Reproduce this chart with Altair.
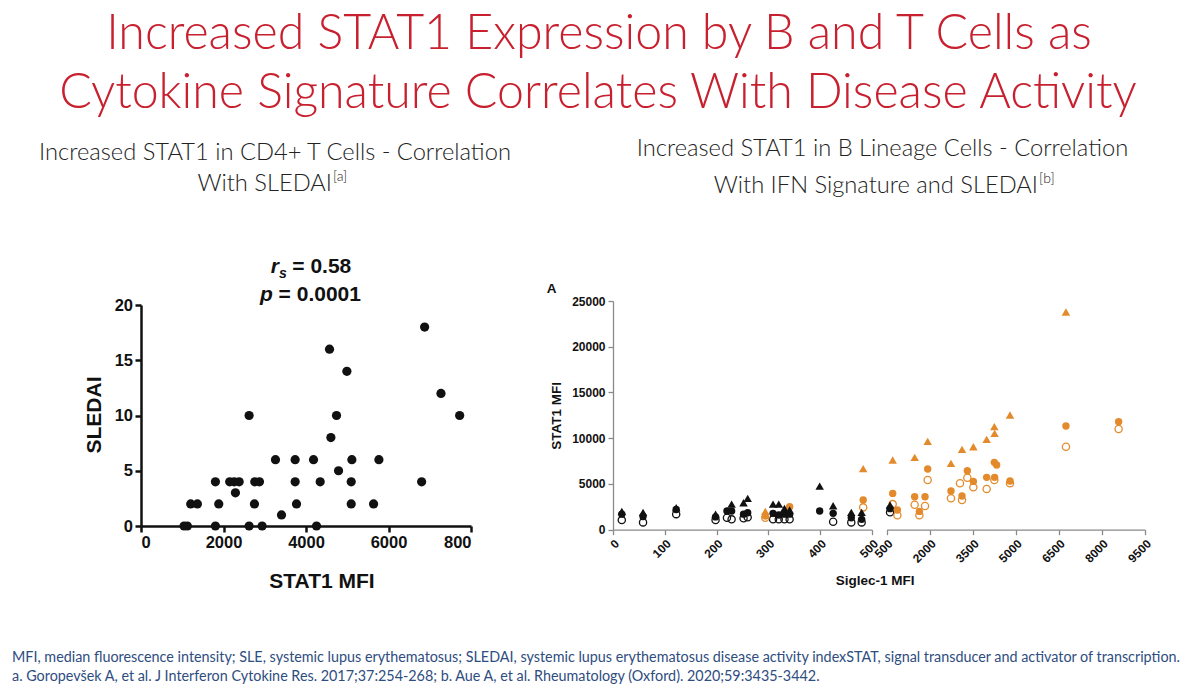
import altair as alt
import pandas as pd

# ---------------- data ----------------
# Left panel: STAT1 MFI (CD4+ T cells) vs SLEDAI
stat1_mfi = [6876, 4570, 4991, 7272, 2621, 4740, 7725, 4603, 3260, 3737, 4182, 5112, 5767, 4789,
             1804, 2150, 2260, 2380, 2758, 2872, 3737, 4344, 5096, 6803, 2289,
             1205, 1367, 1885, 2750, 3770, 5096, 5638, 3406, 1043, 1124, 1804, 2621, 2936, 4255]
sledai = [18, 16, 14, 12, 10, 10, 10, 8, 6, 6, 6, 6, 6, 5,
          4, 4, 4, 4, 4, 4, 4, 4, 4, 4, 3,
          2, 2, 2, 2, 2, 2, 2, 1, 0, 0, 0, 0, 0, 0]

# Right panel: Siglec-1 MFI vs STAT1 MFI in three B-lineage subsets per patient
siglec1 = [17, 58, 122, 198, 220, 229, 252, 260, 309, 320, 331, 341, 399, 425, 460, 480,
           294, 341, 483, 616,
           709, 872, 1475, 1638, 1835, 1928, 2740, 3054, 3124, 3310, 3519, 3983, 4250, 4260,
           4331, 4796, 6746, 8581]
ifn_group = ["low"] * 16 + ["high", "high", "high", "low"] + ["high"] * 18
stat1_triangle = [2000, 1900, 2400, 1700, None, 2800, 2950, 3425, 2800, 2800, 2330, 2150, 4770, 2620, 1900, 1900,
                  2000, None, 6670, 2700,
                  7620, None, 7910, None, None, 9660, 7250, None, 8780, None, 9070, 9880, 11260, 10530,
                  None, 12540, 23800, None]
stat1_filled = [1700, 1450, 2200, 1400, 2040, 2040, 1700, 1860, 1785, 1600, 1700, 1700, 2040, 1785, 1310, 1130,
                1500, 2500, 3240, 2300,
                3970, 2150, 3610, 2000, 3610, 6630, 4230, None, 3680, 6450, 5280, 5720, 7360, 5720,
                7070, 5320, 11330, 11810]
stat1_open = [1050, 800, 1700, 1050, 1300, 1130, 1240, 1350, 1130, 1130, 1130, 1130, None, 870, 800, 800,
              1300, None, 2440, 1900,
              2800, 1570, 2730, 1570, 2590, 5430, 3430, 5070, 3240, 5680, 4630, 4450, 5430, None,
              None, 5070, 9070, 11000]

left_x_ticks = [0, 2000, 4000, 6000, 8000]
left_y_ticks = [0, 5, 10, 15, 20]
right_y_ticks = [0, 5000, 10000, 15000, 20000, 25000]
seg1_ticks = [0, 100, 200, 300, 400, 500]
seg2_ticks = [500, 2000, 3500, 5000, 6500, 8000, 9500]

# ---------------- tables ----------------
df_left = pd.DataFrame({"stat1": stat1_mfi, "sledai": sledai})
rows = []
for s, g, t, f, o in zip(siglec1, ifn_group, stat1_triangle, stat1_filled, stat1_open):
    for kind, v in (("open", o), ("filled", f), ("tri", t)):
        if v is not None:
            rows.append({"siglec": s, "group": g, "kind": kind, "stat1": v})
df_r = pd.DataFrame(rows)
df_seg1 = df_r[df_r.siglec < 500]
df_seg2 = df_r[df_r.siglec >= 500]
dummy = pd.DataFrame({"a": [0]})

W, H = 1184, 678
RED = "#C8202F"
INK = "#111111"
ORANGE = "#E38B2C"
SUB = "#222222"
NOTE = "#2E4D80"

gp_axis = dict(domainColor=INK, domainWidth=2.5, tickColor=INK, tickWidth=2.5, tickSize=6,
               labelFont="Liberation Sans", labelFontWeight="bold", labelFontSize=16.5,
               labelColor=INK, labelPadding=2.5, grid=False, title=None, format="d")
r_axis = dict(domainColor="#8a8a8a", domainWidth=1.3, tickColor="#8a8a8a", tickWidth=1.3, tickSize=5,
              labelFont="Liberation Sans", labelFontWeight="bold", labelFontSize=12,
              labelColor=INK, labelPadding=3, grid=False, format="d")

# ---------------- left scatter ----------------
left = alt.Chart(df_left).mark_circle(size=85, color=INK, opacity=1).encode(
    x=alt.X("stat1:Q",
            scale=alt.Scale(domain=[0, 8000], range=[133, 463], nice=False, zero=False),
            axis=alt.Axis(values=left_x_ticks, orient="bottom", offset=-160,
                          labelExpr="datum.value == 8000 ? '800' : datum.label", **gp_axis)),
    y=alt.Y("sledai:Q",
            scale=alt.Scale(domain=[0, 20], range=[518, 297], nice=False),
            axis=alt.Axis(values=left_y_ticks, orient="left", offset=-133, **gp_axis)),
)

# ---------------- right scatter (broken x axis) ----------------
color_enc = alt.Color("group:N", scale=alt.Scale(domain=["low", "high"], range=[INK, ORANGE]), legend=None)


def right_panel(df, domain, rng, ticks, show_y):
    x = alt.X("siglec:Q", scale=alt.Scale(domain=domain, range=rng, nice=False, zero=False),
              axis=alt.Axis(values=ticks, orient="bottom", offset=-156.3, title=None,
                            labelAngle=315, **r_axis))
    yscale = alt.Scale(domain=[0, 25000], range=[521.7, 293], nice=False)
    if show_y:
        y = alt.Y("stat1:Q", scale=yscale,
                  axis=alt.Axis(values=right_y_ticks, orient="left", offset=-605, title="STAT1 MFI",
                                titleFont="Liberation Sans", titleFontWeight="bold", titleFontSize=13.5,
                                titleColor=INK, titlePadding=8, **r_axis))
    else:
        y = alt.Y("stat1:Q", scale=yscale, axis=None)
    base = alt.Chart(df)
    open_l = base.transform_filter("datum.kind == 'open'").mark_point(
        shape="circle", filled=False, size=52, strokeWidth=1.3, opacity=1).encode(x=x, y=y, color=color_enc)
    filled_l = base.transform_filter("datum.kind == 'filled'").mark_circle(
        size=55, opacity=1).encode(x=x, y=y, color=color_enc)
    tri_l = base.transform_filter("datum.kind == 'tri'").mark_point(
        shape="triangle-up", filled=True, size=72, opacity=1).encode(x=x, y=y, color=color_enc)
    return alt.layer(open_l, filled_l, tri_l)


p1 = right_panel(df_seg1, [0, 500], [605, 864], seg1_ticks, True)
p2 = right_panel(df_seg2, [500, 9500], [878.7, 1137], seg2_ticks, False)


# ---------------- texts ----------------
def txt(s, x, y, size, color=INK, font="Liberation Sans", weight="normal", style="normal",
        align="center", baseline="alphabetic", angle=0):
    return alt.Chart(dummy).mark_text(
        text=s, font=font, fontSize=size, fontWeight=weight, fontStyle=style, color=color,
        align=align, baseline=baseline, angle=angle).encode(x=alt.value(x), y=alt.value(y))


SLIDE = "Lato"
texts = [
    txt("Increased STAT1 Expression by B and T Cells as", 591, 41, 48.3, RED, SLIDE, 300),
    txt("Cytokine Signature Correlates With Disease Activity", 590, 100, 48.3, RED, SLIDE, 300),
    txt("Increased STAT1 in CD4+ T Cells - Correlation", 267, 152, 23.7, SUB, SLIDE, 300),
    txt("With SLEDAI", 324, 183, 23.7, SUB, SLIDE, 300, align="right"),
    txt("[a]", 325, 173, 14, SUB, SLIDE, 300, align="left"),
    txt("Increased STAT1 in B Lineage Cells - Correlation", 874.5, 148, 23.7, SUB, SLIDE, 300),
    txt("With IFN Signature and SLEDAI", 1030, 185, 23.7, SUB, SLIDE, 300, align="right"),
    txt("[b]", 1031, 175, 14, SUB, SLIDE, 300, align="left"),
    # left panel annotation and titles
    txt("r", 262.7, 265, 21, weight="bold", style="italic", align="left"),
    txt("s", 271, 270, 14, weight="bold", style="italic", align="left"),
    txt("= 0.58", 284.3, 265, 21, weight="bold", align="left"),
    txt("p", 252, 293, 21, weight="bold", style="italic", align="left"),
    txt("= 0.0001", 270.6, 293, 21, weight="bold", align="left"),
    txt("STAT1 MFI", 314, 580, 21, weight="bold"),
    txt("SLEDAI", 87, 407, 21, weight="bold", baseline="middle", angle=270),
    # right panel labels
    txt("A", 543.7, 285, 13.5, weight="bold"),
    txt("Siglec-1 MFI", 867, 577, 13.5, weight="bold"),
    # footnotes
    txt("MFI, median fluorescence intensity; SLE, systemic lupus erythematosus; SLEDAI, systemic lupus "
        "erythematosus disease activity indexSTAT, signal transducer and activator of transcription.",
        4, 654, 14.35, NOTE, SLIDE, "normal", align="left"),
    txt("a. Goropevšek A, et al. J Interferon Cytokine Res. 2017;37:254-268; b. Aue A, et al. "
        "Rheumatology (Oxford). 2020;59:3435-3442.",
        4, 673, 14.35, NOTE, SLIDE, "normal", align="left"),
]

chart = alt.layer(left, p1, p2, *texts).resolve_scale(
    x="independent", y="independent"
).resolve_axis(
    x="independent", y="independent"
).properties(
    width=W, height=H, padding=0, background="white"
).configure_view(strokeWidth=0)

chart.save("out.html", embed_options={"renderer": "svg", "actions": False})
